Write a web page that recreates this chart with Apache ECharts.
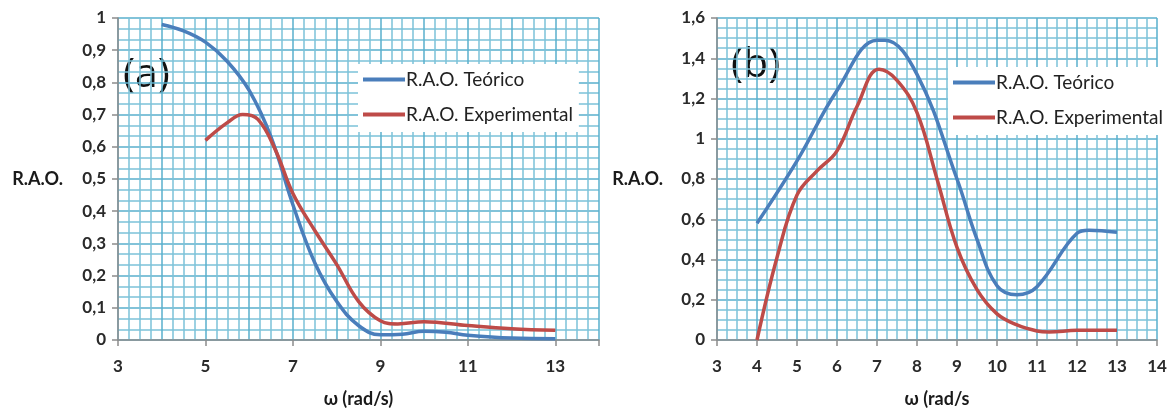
<!DOCTYPE html>
<html>
<head>
<meta charset="utf-8">
<script src="https://cdn.jsdelivr.net/npm/echarts@6/dist/echarts.min.js"></script>
<style>
  html, body { margin: 0; padding: 0; background: #fff; }
  #chart { width: 1172px; height: 410px; }
</style>
</head>
<body>
<div id="chart"></div>
<script>
// (a) data
var omegaTeoA = [4, 4.5, 5, 5.5, 6, 6.5, 7, 7.5, 8, 8.5, 9, 9.5, 10, 10.5, 11, 12, 13];
var raoTeoA   = [0.98, 0.96, 0.925, 0.865, 0.775, 0.63, 0.42, 0.24, 0.12, 0.045, 0.016, 0.018, 0.027, 0.024, 0.015, 0.006, 0.004];
var omegaExpA = [5, 5.5, 5.85, 6.2, 6.6, 7, 7.5, 8, 8.5, 9, 9.4, 10, 11, 12, 13];
var raoExpA   = [0.62, 0.675, 0.7, 0.685, 0.59, 0.455, 0.34, 0.235, 0.12, 0.06, 0.05, 0.057, 0.045, 0.035, 0.03];

// (b) data
var omegaTeoB = [4, 5, 6, 7, 7.2, 8, 9, 9.5, 10, 10.5, 11, 12, 12.3, 13];
var raoTeoB   = [0.58, 0.89, 1.24, 1.49, 1.49, 1.32, 0.8, 0.5, 0.27, 0.225, 0.265, 0.53, 0.545, 0.535];
var omegaExpB = [4, 4.5, 5, 5.5, 6, 6.5, 7.05, 7.5, 8, 8.5, 9, 9.5, 10, 10.5, 11, 11.3, 12, 13];
var raoExpB   = [0, 0.41, 0.72, 0.84, 0.94, 1.16, 1.345, 1.29, 1.13, 0.8, 0.46, 0.25, 0.13, 0.075, 0.045, 0.04, 0.048, 0.048];

var labelsA = [3, 5, 7, 9, 11, 13];

function pairs(xs, ys) {
  return xs.map(function (x, i) { return [x, ys[i]]; });
}
function comma(v) { return String(v).replace('.', ','); }

var FONT = 'Lato';
var BLUE = '#4a7ebb';
var RED = '#be4b48';
var gridLine = { show: true, lineStyle: { color: '#58afcc', width: 1.5 } };
var minorLine = { show: true, lineStyle: { color: '#7cc2d9', width: 1.5 } };
var axisLine = { show: true, lineStyle: { color: '#8c8c8c', width: 1.5 } };
var tick = { show: true, length: 6, lineStyle: { color: '#8c8c8c', width: 1.5 } };
var lblStyle = { color: '#2a2a2a', fontFamily: FONT, fontSize: 17, fontWeight: 'bold' };
var nameStyle = { color: '#1a1a1a', fontFamily: FONT, fontSize: 18, fontWeight: 'bold' };
var legendText = { color: '#222', fontFamily: FONT, fontSize: 19, padding: [0, 0, 0, -4] };

var chart = echarts.init(document.getElementById('chart'));

var option = {
  backgroundColor: '#ffffff',
  animation: false,
  grid: [
    { left: 118, top: 18, width: 481, height: 322, outerBoundsMode: 'none' },
    { left: 717, top: 18, width: 440, height: 322, outerBoundsMode: 'none' }
  ],
  xAxis: [
    {
      gridIndex: 0, type: 'value', min: 3, max: 14, interval: 1,
      axisLine: axisLine, axisTick: { show: false },
      axisLabel: Object.assign({ margin: 18, formatter: function (v) {
        return labelsA.indexOf(v) >= 0 ? String(v) : '';
      } }, lblStyle),
      splitLine: gridLine, minorTick: { show: false, splitNumber: 4 }, minorSplitLine: minorLine,
      name: 'ω (rad/s)', nameLocation: 'middle', nameGap: 50, nameTextStyle: nameStyle
    },
    {
      // only the ticks at the labelled positions
      gridIndex: 0, type: 'value', min: 3, max: 14, interval: 2, position: 'bottom',
      axisLine: { show: false }, axisTick: tick, axisLabel: { show: false }, splitLine: { show: false }
    },
    {
      gridIndex: 1, type: 'value', min: 3, max: 14, interval: 1,
      axisLine: axisLine, axisTick: tick,
      axisLabel: Object.assign({ margin: 18, formatter: comma }, lblStyle),
      splitLine: gridLine, minorTick: { show: false, splitNumber: 4 }, minorSplitLine: minorLine,
      name: 'ω (rad/s', nameLocation: 'middle', nameGap: 50, nameTextStyle: nameStyle
    }
  ],
  yAxis: [
    {
      gridIndex: 0, type: 'value', min: 0, max: 1, interval: 0.1,
      axisLine: axisLine, axisTick: tick,
      axisLabel: Object.assign({ margin: 12, formatter: comma }, lblStyle),
      splitLine: gridLine, minorTick: { show: false, splitNumber: 3 }, minorSplitLine: minorLine,
      name: 'R.A.O.', nameLocation: 'middle', nameRotate: 0, nameGap: 55, nameTextStyle: nameStyle
    },
    {
      gridIndex: 1, type: 'value', min: 0, max: 1.6, interval: 0.2,
      axisLine: axisLine, axisTick: tick,
      axisLabel: Object.assign({ margin: 12, formatter: comma }, lblStyle),
      splitLine: gridLine, minorTick: { show: false, splitNumber: 4 }, minorSplitLine: minorLine,
      name: 'R.A.O.', nameLocation: 'middle', nameRotate: 0, nameGap: 54, nameTextStyle: nameStyle
    }
  ],
  legend: [
    {
      left: 358, top: 64, orient: 'vertical', backgroundColor: '#fff',
      padding: [6, 6, 8, 5], itemWidth: 42, itemHeight: 4, itemGap: 16,
      icon: 'rect', textStyle: legendText,
      data: [
        { name: 'R.A.O. Teórico', itemStyle: { color: BLUE } },
        { name: 'R.A.O. Experimental', itemStyle: { color: RED } }
      ]
    },
    {
      left: 948, top: 67, orient: 'vertical', backgroundColor: '#fff',
      padding: [6, 4, 8, 5], itemWidth: 42, itemHeight: 4, itemGap: 16,
      icon: 'rect', textStyle: legendText,
      data: [
        { name: 'R.A.O. Teórico ', itemStyle: { color: BLUE } },
        { name: 'R.A.O. Experimental ', itemStyle: { color: RED } }
      ]
    }
  ],
  graphic: [
    { type: 'text', left: 123, top: 55, style: { text: '(a)', font: '41px "Open Sans"', fill: '#111' } },
    { type: 'text', left: 731, top: 45, style: { text: '(b)', font: '41px "Open Sans"', fill: '#111' } }
  ],
  series: [
    {
      name: 'R.A.O. Teórico', type: 'line', xAxisIndex: 0, yAxisIndex: 0,
      data: pairs(omegaTeoA, raoTeoA), smooth: 0.4, showSymbol: false,
      lineStyle: { color: BLUE, width: 3.5 }, itemStyle: { color: BLUE }
    },
    {
      name: 'R.A.O. Experimental', type: 'line', xAxisIndex: 0, yAxisIndex: 0,
      data: pairs(omegaExpA, raoExpA), smooth: 0.4, showSymbol: false,
      lineStyle: { color: RED, width: 3.5 }, itemStyle: { color: RED }
    },
    {
      name: 'R.A.O. Teórico ', type: 'line', xAxisIndex: 2, yAxisIndex: 1,
      data: pairs(omegaTeoB, raoTeoB), smooth: 0.4, showSymbol: false,
      lineStyle: { color: BLUE, width: 3.5 }, itemStyle: { color: BLUE }
    },
    {
      name: 'R.A.O. Experimental ', type: 'line', xAxisIndex: 2, yAxisIndex: 1,
      data: pairs(omegaExpB, raoExpB), smooth: 0.4, showSymbol: false,
      lineStyle: { color: RED, width: 3.5 }, itemStyle: { color: RED }
    }
  ]
};

chart.setOption(option);
</script>
</body>
</html>
